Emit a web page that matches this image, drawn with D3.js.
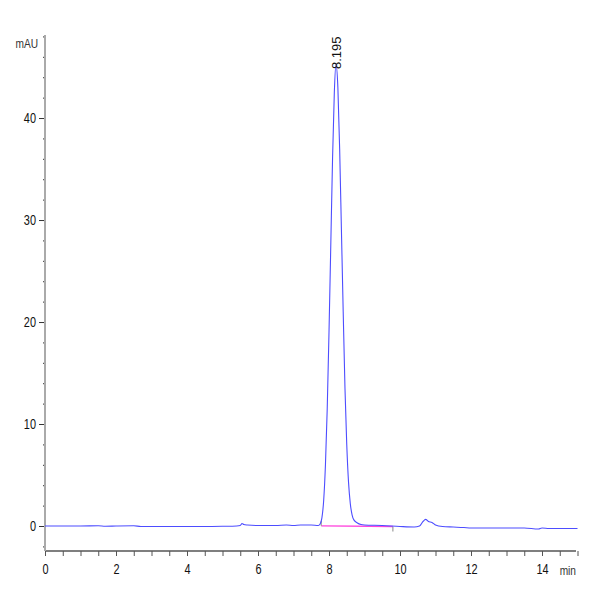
<!DOCTYPE html>
<html>
<head>
<meta charset="utf-8">
<script src="https://cdn.jsdelivr.net/npm/d3@7"></script>
<style>
    body { margin: 0; background: #fff; }
    text { font-family: "Liberation Sans Narrow", "Liberation Sans", Arial, sans-serif; }
</style>
</head>
<body>
<div id="chart"></div>
<script>
// Datos del cromatograma (tiempo en min, señal en mAU)
const traceTime = [0, 0.5, 1.0, 1.5, 1.7, 2.0, 2.5, 2.7, 3.5, 4.5, 5.0, 5.4, 5.5, 5.55, 5.6, 5.7,
    6.0, 6.5, 6.8, 7.0, 7.2, 7.5, 7.7, 7.75, 7.8, 7.85, 7.9, 7.95, 8.0, 8.05, 8.1, 8.15, 8.195,
    8.25, 8.3, 8.35, 8.4, 8.45, 8.5, 8.55, 8.6, 8.65, 8.7, 8.8, 8.9, 9.0, 9.5, 10.0, 10.4, 10.55,
    10.65, 10.72, 10.8, 10.9, 11.0, 11.2, 11.5, 11.8, 12.0, 13.0, 13.5, 13.9, 14.0, 14.2, 15.0];
const traceMAU = [0, 0, 0, 0.02, -0.02, 0, 0.02, -0.05, -0.05, -0.05, -0.03, 0, 0.05, 0.25, 0.15, 0.1,
    0.05, 0.05, 0.1, 0.05, 0.1, 0.1, 0.05, 0.2, 0.8, 2.5, 6, 11.5, 19, 27.5, 36, 42.5, 45.3,
    43, 37, 29, 21, 13.5, 8, 4.3, 2.2, 1.1, 0.6, 0.3, 0.15, 0.1, 0.05, -0.05, -0.1, 0,
    0.45, 0.65, 0.45, 0.35, 0.1, -0.05, -0.1, -0.15, -0.2, -0.2, -0.2, -0.3, -0.2, -0.25, -0.25];

// Línea base de integración del pico
const baseTime = [7.78, 9.8];
const baseMAU = [0.02, -0.05];

// Etiqueta del pico
const peakTime = 8.195;
const peakMAU = 45.3;
const peakLabel = "8.195";

// Marcas de los ejes
const xMajor = [0, 2, 4, 6, 8, 10, 12, 14];
const yMajor = [0, 10, 20, 30, 40];

const width = 600, height = 600;

const svg = d3.select("#chart").append("svg")
    .attr("width", width)
    .attr("height", height);

const x = d3.scaleLinear().domain([0, 15]).range([45, 577.5]);
const y = d3.scaleLinear().domain([-2.45, 48.14]).range([551, 35]);

// Marcas menores: cada 0.5 min y cada 2 mAU
const xMinor = d3.range(0, 15.01, 0.5);
const yMinor = d3.range(-2, 48.1, 2);

// Eje X
const xAxisG = svg.append("g").attr("transform", `translate(0,${y.range()[0]})`);
xAxisG.call(d3.axisBottom(x).tickValues(xMinor).tickSize(5).tickFormat(""))
    .call(g => g.select(".domain").remove())
    .call(g => g.selectAll("line").attr("stroke", "#555"));
xAxisG.call(g => g.append("g")
    .call(d3.axisBottom(x).tickValues(xMajor).tickSize(0).tickPadding(13).tickFormat(d3.format("d")))
    .call(g2 => g2.select(".domain").remove())
    .selectAll("text").attr("fill", "#111").attr("font-size", 14));
xAxisG.append("line")
    .attr("x1", x(0)).attr("x2", 576)
    .attr("stroke", "#555").attr("stroke-width", 1.5);
xAxisG.append("text")
    .attr("x", 576).attr("y", 24)
    .attr("text-anchor", "end")
    .attr("font-size", 13)
    .attr("fill", "#333")
    .text("min");

// Eje Y
const yAxisG = svg.append("g").attr("transform", `translate(${x(0)},0)`);
yAxisG.call(d3.axisLeft(y).tickValues(yMinor).tickSize(2).tickFormat(""))
    .call(g => g.select(".domain").remove())
    .call(g => g.selectAll("line").attr("stroke", "#333"));
yAxisG.append("g")
    .call(d3.axisLeft(y).tickValues(yMajor).tickSize(6).tickPadding(3).tickFormat(d3.format("d")))
    .call(g => g.select(".domain").remove())
    .call(g => g.selectAll("line").attr("stroke", "#333"))
    .selectAll("text").attr("fill", "#111").attr("font-size", 14);
yAxisG.append("line")
    .attr("y1", y.range()[1]).attr("y2", y.range()[0])
    .attr("stroke", "#aaa").attr("stroke-width", 2);
yAxisG.append("text")
    .attr("x", -7).attr("y", 48)
    .attr("text-anchor", "end")
    .attr("font-size", 13)
    .attr("fill", "#333")
    .text("mAU");

// Texto estrecho, como en el original (solo ejes)
svg.selectAll("text").each(function () {
    const len = this.getComputedTextLength();
    if (len > 0) {
        d3.select(this)
            .attr("textLength", len * 0.78)
            .attr("lengthAdjust", "spacingAndGlyphs");
    }
});

// Línea base de integración (magenta) y sus marcas
svg.append("path")
    .datum(d3.zip(baseTime, baseMAU))
    .attr("fill", "none")
    .attr("stroke", "#ff44dd")
    .attr("stroke-width", 1.3)
    .attr("d", d3.line().x(d => x(d[0])).y(d => y(d[1])));
svg.append("line")
    .attr("x1", x(baseTime[0])).attr("x2", x(baseTime[0]))
    .attr("y1", y(baseMAU[0]) - 5).attr("y2", y(baseMAU[0]))
    .attr("stroke", "#888");
svg.append("line")
    .attr("x1", x(baseTime[1])).attr("x2", x(baseTime[1]))
    .attr("y1", y(baseMAU[1])).attr("y2", y(baseMAU[1]) + 5)
    .attr("stroke", "#888");

// Señal del detector
svg.append("path")
    .datum(d3.zip(traceTime, traceMAU))
    .attr("fill", "none")
    .attr("stroke", "#4d4dff")
    .attr("stroke-width", 1.1)
    .attr("d", d3.line().curve(d3.curveMonotoneX).x(d => x(d[0])).y(d => y(d[1])));

// Etiqueta del tiempo de retención, girada
svg.append("text")
    .attr("transform", `translate(${x(peakTime) + 5},${y(peakMAU) + 5}) rotate(-90)`)
    .attr("font-size", 13)
    .attr("fill", "#111")
    .text(peakLabel);
</script>
</body>
</html>
